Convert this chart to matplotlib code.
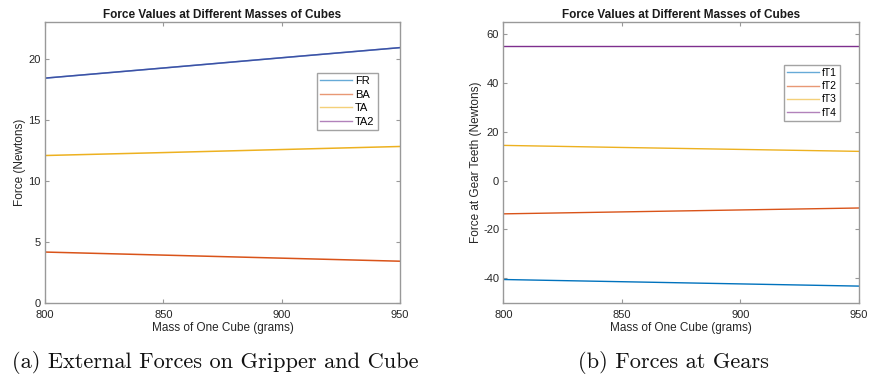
import matplotlib
matplotlib.use("Agg")
import matplotlib.pyplot as plt
from matplotlib.lines import Line2D
from matplotlib.colors import to_rgb

mass = [800, 850, 900, 950]
FR = [18.40, 19.23, 20.07, 20.90]
BA = [4.15, 3.90, 3.65, 3.40]
TA = [12.06, 12.30, 12.55, 12.80]
TA2 = [18.40, 19.23, 20.07, 20.90]
fT1 = [-40.5, -41.4, -42.3, -43.2]
fT2 = [-13.6, -12.8, -12.0, -11.2]
fT3 = [14.45, 13.6, 12.8, 12.0]
fT4 = [55.2, 55.2, 55.2, 55.2]

xticks = [800, 850, 900, 950]
yticks_a = [0, 5, 10, 15, 20]
yticks_b = [-40, -20, 0, 20, 40, 60]

title = "Force Values at Different Masses of Cubes"
xlabel = "Mass of One Cube (grams)"
caption_a = "(a) External Forces on Gripper and Cube"
caption_b = "(b) Forces at Gears"

C = ["#0072BD", "#D95319", "#EDB120", "#7E2F8E"]
plt.rcParams['font.family'] = ['Liberation Sans', 'DejaVu Sans']
plt.rcParams['axes.unicode_minus'] = False

def lighten(c, f=0.4):
    r, g, b = to_rgb(c)
    return (r + (1 - r) * f, g + (1 - g) * f, b + (1 - b) * f)

fig = plt.figure(figsize=(8.71, 3.79), dpi=100)
W, H = 871, 379

def make_ax(x0, x1, y0, y1):
    return fig.add_axes([x0 / W, 1 - y1 / H, (x1 - x0) / W, (y1 - y0) / H])

def style(ax):
    for s in ax.spines.values():
        s.set_color("#999999")
        s.set_linewidth(1.0)
    ax.tick_params(direction="in", top=True, right=True, length=3, width=0.8,
                   color="#999999", labelsize=8, labelcolor="#262626", pad=3)
    ax.tick_params(axis="x", pad=5)
    ax.set_title(title, fontsize=8.5, fontweight="bold", color="#1a1a1a", pad=3)
    ax.set_xlabel(xlabel, fontsize=8.5, color="#262626", labelpad=2)

ax1 = make_ax(45, 400, 22, 302.7)
ax1.plot(mass, FR, color=C[0], lw=1.1)
ax1.plot(mass, BA, color=C[1], lw=1.1)
ax1.plot(mass, TA, color=C[2], lw=1.1)
ax1.plot(mass, TA2, color=C[3], lw=1.1, alpha=0.5)
ax1.set_xlim(800, 950)
ax1.set_ylim(0, 23)
ax1.set_xticks(xticks)
ax1.set_yticks(yticks_a)
style(ax1)
ax1.set_ylabel("Force (Newtons)", fontsize=8.5, color="#262626", labelpad=2)
h1 = [Line2D([0], [0], color=lighten(c), lw=1.0) for c in C]
leg1 = ax1.legend(h1, ["FR", "BA", "TA", "TA2"], loc="upper left",
                  bbox_to_anchor=((316.7 - 45) / 355, (302.7 - 72.7) / 280.7),
                  fontsize=8, frameon=True, fancybox=False, edgecolor="#8c8c8c",
                  handlelength=2.85, handletextpad=0.3, borderpad=0.3,
                  labelspacing=0.32, borderaxespad=0)
leg1.get_frame().set_linewidth(1.0)

ax2 = make_ax(503.3, 859, 22, 302.7)
ax2.plot(mass, fT1, color=C[0], lw=1.0)
ax2.plot(mass, fT2, color=C[1], lw=1.0)
ax2.plot(mass, fT3, color=C[2], lw=1.0)
ax2.plot(mass, fT4, color=C[3], lw=1.0)
ax2.set_xlim(800, 950)
ax2.set_ylim(-50, 65)
ax2.set_xticks(xticks)
ax2.set_yticks(yticks_b)
style(ax2)
ax2.set_ylabel("Force at Gear Teeth (Newtons)", fontsize=8.5, color="#262626", labelpad=1)
h2 = [Line2D([0], [0], color=lighten(c), lw=1.0) for c in C]
leg2 = ax2.legend(h2, ["fT1", "fT2", "fT3", "fT4"], loc="upper left",
                  bbox_to_anchor=((784 - 503.3) / 355.7, (302.7 - 65) / 280.7),
                  fontsize=7.5, frameon=True, fancybox=False, edgecolor="#8c8c8c",
                  handlelength=3.1, handletextpad=0.25, borderpad=0.3,
                  labelspacing=0.3, borderaxespad=0)
leg2.get_frame().set_linewidth(1.0)

fig.text(215 / W, 1 - 362 / H, caption_a, family="cmr10", fontsize=16.1,
         ha="center", va="center", color="#111111")
fig.text(673 / W, 1 - 362 / H, caption_b, family="cmr10", fontsize=16.1,
         ha="center", va="center", color="#111111")

fig.savefig("out.png", dpi=100)
